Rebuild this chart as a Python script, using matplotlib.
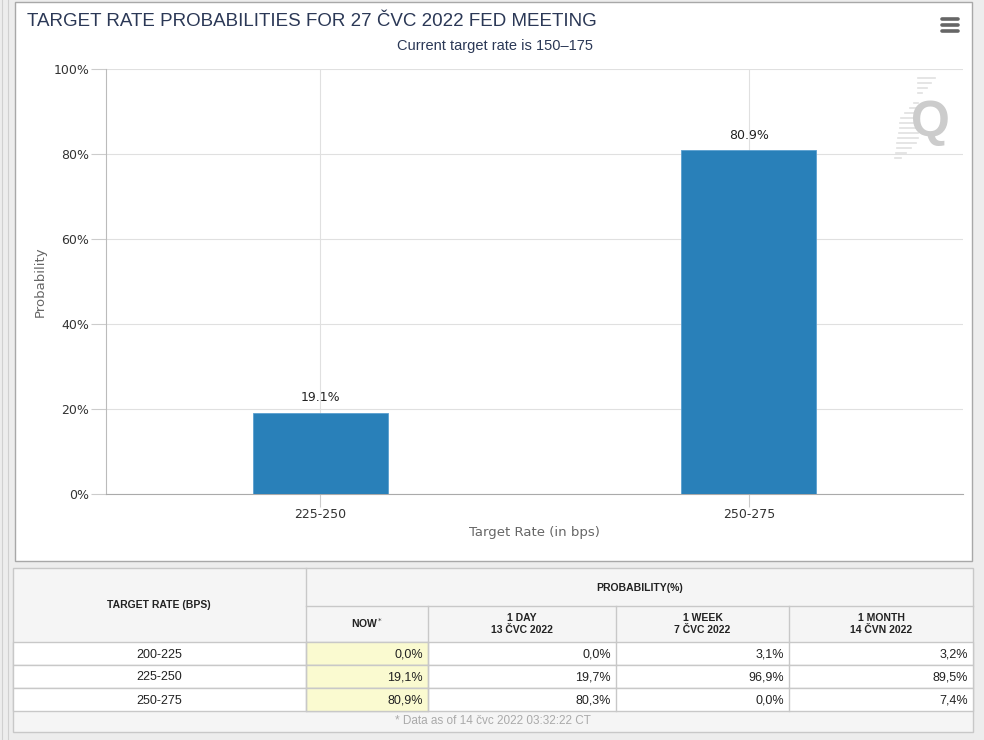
import matplotlib.pyplot as plt
from matplotlib.patches import Rectangle

# data
categories = ['225-250', '250-275']
probabilities = [19.1, 80.9]

table_rates = ['200-225', '225-250', '250-275']
now_vals = ['0,0%', '19,1%', '80,9%']
day_vals = ['0,0%', '19,7%', '80,3%']
week_vals = ['3,1%', '96,9%', '0,0%']
month_vals = ['3,2%', '89,5%', '7,4%']
col_heads = ['NOW', '1 DAY\n13 ČVC 2022', '1 WEEK\n7 ČVC 2022', '1 MONTH\n14 ČVN 2022']

W, H = 984, 740
NARROW = ['Liberation Sans', 'DejaVu Sans']

fig = plt.figure(figsize=(W / 100, H / 100), dpi=100)
fig.patch.set_facecolor('#ededed')

# background layer in pixel coordinates
bg = fig.add_axes([0, 0, 1, 1])
bg.set_xlim(0, W)
bg.set_ylim(H, 0)
bg.axis('off')

# page strips on the left
for x in [2, 8]:
    bg.plot([x, x], [0, H], color='#d0d0d0', lw=0.8)

# chart panel
bg.add_patch(Rectangle((15, 2), 957, 559, facecolor='white', edgecolor='#a8a8a8', lw=1))
bg.text(27, 21, 'TARGET RATE PROBABILITIES FOR 27 ČVC 2022 FED MEETING', fontsize=13.5,
        color='#2b3856', va='center', ha='left', family=NARROW)
bg.text(495, 46, 'Current target rate is 150–175', fontsize=10.5, color='#2b3856',
        va='center', ha='center', family=NARROW)
# menu icon
for y in [19, 25, 31]:
    bg.plot([942, 958], [y, y], color='#666666', lw=2.6, solid_capstyle='round')

# watermark Q
bg.text(930, 123, 'Q', fontsize=36, color='#cccccc', ha='center', va='center',
        fontweight='bold', family=NARROW)
for y in range(78, 160, 5):
    left = 935 - (y - 78) * 0.5
    right = min(left + 6 + (40 - abs(y - 118)) * 0.5, 918)
    bg.plot([left - (40 - abs(y - 118)) * 0.35, right], [y, y], color='#e0e0e0', lw=1.2)

# table
xs = [13, 306, 428, 616, 789, 973]
ys = [568, 606, 642, 665, 688, 711, 732]
bg.add_patch(Rectangle((13, 568), 960, 164, facecolor='#f5f5f5', edgecolor='#c8c8c8', lw=1))
for r in range(3):
    y0, y1 = ys[r + 2], ys[r + 3]
    bg.add_patch(Rectangle((13, y0), 960, y1 - y0, facecolor='white', edgecolor='#c8c8c8', lw=1))
    bg.add_patch(Rectangle((306, y0), 122, y1 - y0, facecolor='#fafad0', edgecolor='#c8c8c8', lw=1))
    for x in xs[1:-1]:
        bg.plot([x, x], [y0, y1], color='#c8c8c8', lw=1)
bg.plot([306, 306], [568, 642], color='#c8c8c8', lw=1)
bg.plot([306, 973], [606, 606], color='#c8c8c8', lw=1)
for x in xs[2:-1]:
    bg.plot([x, x], [606, 642], color='#c8c8c8', lw=1)

bg.text(159, 605, 'TARGET RATE (BPS)', fontsize=7.5, fontweight='bold', color='#222222',
        ha='center', va='center', family=NARROW)
bg.text(640, 588, 'PROBABILITY(%)', fontsize=7.5, fontweight='bold', color='#222222',
        ha='center', va='center', family=NARROW)
bg.text(367, 623, col_heads[0] + '$^*$', fontsize=7.5, fontweight='bold', color='#222222',
        ha='center', va='center', family=NARROW)
for i, head in enumerate(col_heads[1:]):
    xc = (xs[i + 2] + xs[i + 3]) / 2
    bg.text(xc, 624, head, fontsize=7.5, fontweight='bold', color='#222222',
            ha='center', va='center', family=NARROW, linespacing=1.15)

columns = [now_vals, day_vals, week_vals, month_vals]
for r, rate in enumerate(table_rates):
    yc = (ys[r + 2] + ys[r + 3]) / 2 + 1
    bg.text(159, yc, rate, fontsize=9, color='#222222', ha='center', va='center', family=NARROW)
    for c, vals in enumerate(columns):
        bg.text(xs[c + 2] - 5, yc, vals[r], fontsize=9, color='#222222', ha='right',
                va='center', family=NARROW)
bg.text(493, 721, '* Data as of 14 čvc 2022 03:32:22 CT', fontsize=8.5, color='#aaaaaa',
        ha='center', va='center', family=NARROW)

# bar chart
ax = fig.add_axes([106 / W, 1 - 494 / H, 857 / W, 425 / H])
ax.set_facecolor('none')
pos = list(range(len(categories)))
bars = ax.bar(pos, probabilities, width=0.315, color='#2980b9', edgecolor='#5a9fd0',
              linewidth=0.6, zorder=3)
for b, v in zip(bars, probabilities):
    ax.text(b.get_x() + b.get_width() / 2, v + 2, f'{v}%', ha='center', va='bottom',
            fontsize=9, color='#222222', zorder=4)

ax.set_xlim(-0.5, 1.5)
ax.set_ylim(0, 100)
ax.set_yticks([0, 20, 40, 60, 80, 100])
ax.set_yticklabels([f'{t}%' for t in [0, 20, 40, 60, 80, 100]])
ax.set_xticks(pos)
ax.set_xticklabels(categories)
ax.grid(True, color='#e0e0e0', lw=0.8, zorder=0)
for s in ['top', 'right']:
    ax.spines[s].set_visible(False)
ax.spines['left'].set_color('#bbbbbb')
ax.spines['bottom'].set_color('#aaaaaa')
ax.tick_params(axis='y', length=11, color='#cccccc', labelsize=9, labelcolor='#333333', pad=1)
ax.tick_params(axis='x', length=9, color='#cccccc', labelsize=9, labelcolor='#333333', pad=1)
ax.set_ylabel('Probability', fontsize=9.5, color='#666666', labelpad=5)
ax.set_xlabel('Target Rate (in bps)', fontsize=9.5, color='#666666', labelpad=4)

fig.savefig('out.png', dpi=100)
